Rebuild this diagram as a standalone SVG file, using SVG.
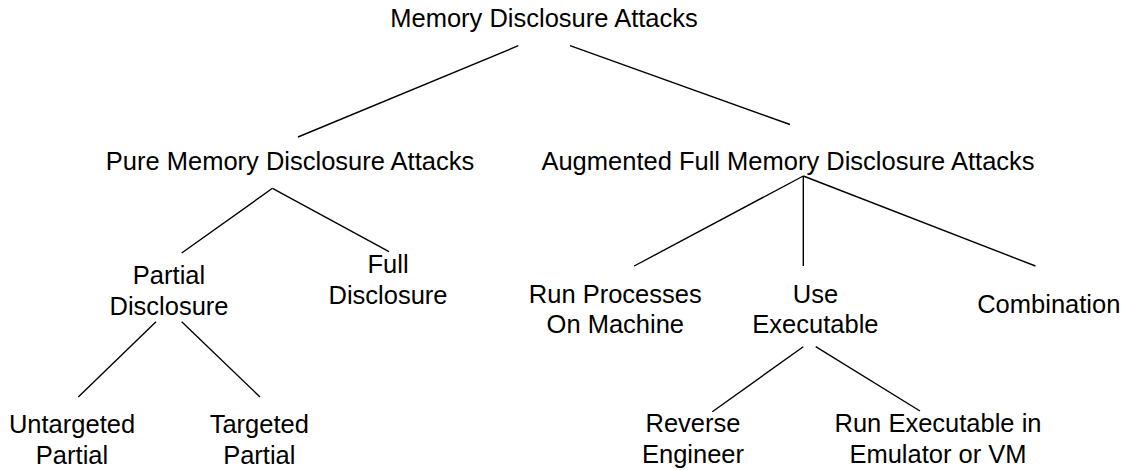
<svg xmlns="http://www.w3.org/2000/svg" width="1131" height="470" viewBox="0 0 1131 470">
<style>
text{font-family:"Liberation Sans",Arial,sans-serif;font-size:25.5px;fill:#000;text-anchor:middle}
.c line{stroke:#000;stroke-width:1.4;fill:none}
</style>
<rect width="1131" height="470" fill="#fff"/>
<g class="c" id="connectors">
<line x1="518.3" y1="45.7" x2="298" y2="137"/>
<line x1="570" y1="45.7" x2="790" y2="124.5"/>
<line x1="272.5" y1="188.3" x2="181.7" y2="253"/>
<line x1="272.5" y1="188.3" x2="389" y2="251.7"/>
<line x1="156" y1="321.7" x2="78.3" y2="397"/>
<line x1="181.7" y1="321.7" x2="260" y2="397"/>
<line x1="803.3" y1="176" x2="634.2" y2="266"/>
<line x1="803.3" y1="176" x2="803.3" y2="266"/>
<line x1="803.3" y1="176" x2="1035.5" y2="266"/>
<line x1="803.3" y1="346.7" x2="712.3" y2="411.7"/>
<line x1="815.7" y1="346.7" x2="920" y2="411"/>
</g>
<g id="root"><text x="544" y="27">Memory Disclosure Attacks</text></g>
<g id="pure"><text x="290" y="170">Pure Memory Disclosure Attacks</text></g>
<g id="augmented"><text x="788" y="170">Augmented Full Memory Disclosure Attacks</text></g>
<g id="partial"><text x="169" y="283.5">Partial</text><text x="169" y="314.5">Disclosure</text></g>
<g id="full"><text x="388" y="273">Full</text><text x="388" y="303.5">Disclosure</text></g>
<g id="untargeted"><text x="72" y="433">Untargeted</text><text x="72" y="463.5">Partial</text></g>
<g id="targeted"><text x="259.3" y="433">Targeted</text><text x="259.3" y="463.5">Partial</text></g>
<g id="runproc"><text x="615.3" y="302.7">Run Processes</text><text x="615.3" y="333.3">On Machine</text></g>
<g id="useexec"><text x="815.4" y="302.7">Use</text><text x="815.4" y="333.3">Executable</text></g>
<g id="combination"><text x="1048.8" y="313.3">Combination</text></g>
<g id="reverse"><text x="693" y="432">Reverse</text><text x="693" y="463.3">Engineer</text></g>
<g id="emulator"><text x="938" y="432">Run Executable in</text><text x="938" y="463.3">Emulator or VM</text></g>
</svg>
